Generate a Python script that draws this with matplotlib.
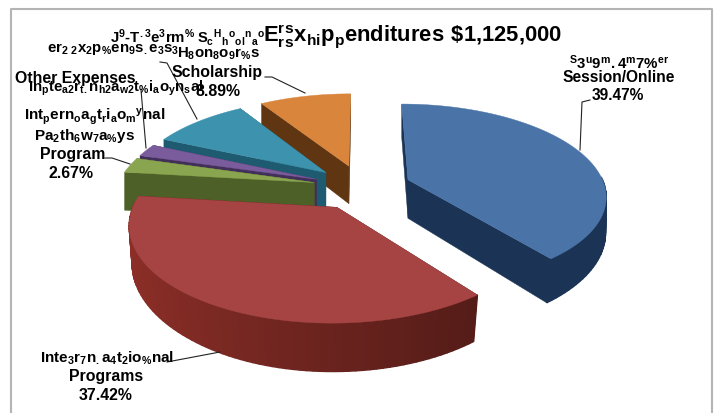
import numpy as np
import matplotlib
matplotlib.use('Agg')
import matplotlib.pyplot as plt
from matplotlib.colors import to_rgb
from matplotlib.patches import Polygon

plt.rcParams['font.family'] = ['Liberation Sans', 'DejaVu Sans']
plt.rcParams['font.weight'] = 'bold'
plt.rcParams['mathtext.fontset'] = 'custom'
plt.rcParams['mathtext.bf'] = 'Liberation Sans:bold'
plt.rcParams['mathtext.rm'] = 'Liberation Sans:bold'
plt.rcParams['mathtext.default'] = 'bf'

# Share of expenditures, clockwise from twelve o'clock
categories = ['Summer Session/Online', 'International Programs',
              'International Pathways Program', 'Other Expenses',
              'J-Term', 'Honors Scholarship']
shares = [39.47, 37.42, 2.67, 2.22, 9.33, 8.89]
top_colors = ['#4a74a8', '#a54442', '#8aa54f', '#7a5b9c', '#3d93ae', '#d9853c']
wall_colors = ['#1b3354', '#551c18', '#4d6028', '#43305a', '#1f5b70', '#5f3512']

# Projection of the pie onto the page, in pixels
cx, cy = 362, 187
rx, ry = 197, 90
persp = 0.16
explode = 0.25
depth = 39
lean = 0.025


def project(X, Y):
    p = 1 / (1 + persp * Y)
    return cx + rx * X * p, cy - ry * Y * p, p


def bottom(X, Y):
    x, y, p = project(X, Y)
    # only the near half of the pie leans inward at its base
    return cx + (x - cx) * (1 - lean * np.clip(-Y, 0, 1) * 1.3), y + depth * p


def slice_outline(start, end):
    mid = np.radians((start + end) / 2)
    ox, oy = explode * np.sin(mid), explode * np.cos(mid)
    th = np.radians(np.linspace(start, end, 80))
    return ox, oy, th


fig = plt.figure(figsize=(7.15, 4.13), dpi=100)
ax = fig.add_axes([0, 0, 1, 1])
ax.set_xlim(0, 715)
ax.set_ylim(413, 0)
ax.axis('off')

# Chart frame, open along the lower edge
ax.plot([10.5, 10.5, 712, 712], [413, 8.5, 8.5, 413], color='#b4b4b4', lw=1.5)

edges = np.concatenate([[0], np.cumsum(shares) / np.sum(shares) * 360])
draw_order = [5, 4, 3, 2, 0, 1]

for i in draw_order:
    ox, oy, th = slice_outline(edges[i], edges[i + 1])
    X, Y = ox + np.sin(th), oy + np.cos(th)
    tx, ty, _ = project(X, Y)
    ax0, ay0, _ = project(ox, oy)
    bx, by = bottom(X, Y)
    bx0, by0 = bottom(ox, oy)

    # radial walls
    for k in (0, -1):
        ax.add_patch(Polygon([(ax0, ay0), (tx[k], ty[k]), (bx[k], by[k]), (bx0, by0)],
                             fc=wall_colors[i], ec=wall_colors[i], lw=0.3))
    # rim on the side facing the viewer, lighter toward the left of the pie
    base = np.array(to_rgb(wall_colors[i]))
    for j in range(len(X) - 1):
        if np.cos(th[j]) > 0.05:
            continue
        shade = 1 + 0.65 * np.clip((0.5 - X[j]) / 1.6, 0, 1)
        col = np.clip(base * shade, 0, 1)
        ax.add_patch(Polygon([(tx[j], ty[j]), (tx[j + 1], ty[j + 1]),
                              (bx[j + 1], by[j + 1]), (bx[j], by[j])],
                             fc=col, ec=col, lw=1.0))
    # top face
    ax.add_patch(Polygon(np.column_stack([np.r_[ax0, tx], np.r_[ay0, ty]]),
                         fc=top_colors[i], ec=top_colors[i], lw=0.3))

# Leader lines
leaders = [([580, 582, 590], [150, 102, 100]),
           ([305, 272, 265], [93, 77, 77]),
           ([197, 167, 160], [119, 63, 62]),
           ([146, 141], [148, 90]),
           ([130, 112, 105], [164, 158, 158]),
           ([220, 167], [352, 362])]
for xs, ys in leaders:
    ax.plot(xs, ys, color='#222222', lw=0.8)


def label(x, y, s, size=11.4, ha='center'):
    ax.text(x, y, s, fontsize=size, ha=ha, va='center', color='black', fontweight='bold')


# Title row
label(263, 36, r'$E^r_r{}^s_s x_{hi}p_p enditures\ \$1{,}125{,}000$', size=15.8, ha='left')
label(110, 37, r'$J^9{\text{-}}T^{.3}e^3rm^\%$', size=10.8, ha='left')
label(197, 37, r'$S_c{}^H{}_h{}^o{}_{ol}{}^n{}_a{}^o$', size=10.6, ha='left')

# Overprinted label rows on the left
label(47, 49, r'$er_{2\ 2}x_2p_\%en_9s_.e_3s_3$', size=10.8, ha='left')
label(177, 54, r'$H_8on_8o_9r_\%s$', size=10.8, ha='left')
label(172, 73, 'Scholarship', ha='left')
label(15, 78, 'Other Expenses', ha='left')
label(28, 88, r'$In_pte_{a2}r_{t.}n_{h2}a_{w2}t_\%i_ao_yn_sal$', size=10.8, ha='left')
label(195, 92, '8.89%', ha='left')
label(24, 117, r'$Int_pern_oa_gt_ri_ao_m{}^ynal$', size=11, ha='left')
label(85, 136, r'$Pa_2th_6w_7a_\%ys$', size=11)
label(73, 155, 'Program')
label(71, 173, '2.67%')

# Remaining labels
label(619, 63, r'$^S3^u9^m.4^m7\%^{er}$', size=10.8)
label(619, 78, 'Session/Online', size=11.2)
label(618, 96, '39.47%', size=11.2)
label(40, 358, r'$Inte_3r_7n_.a_4t_2io_\%nal$', size=11, ha='left')
label(106, 376, 'Programs')
label(106, 395, '37.42%')

fig.savefig('out.png', dpi=100)
